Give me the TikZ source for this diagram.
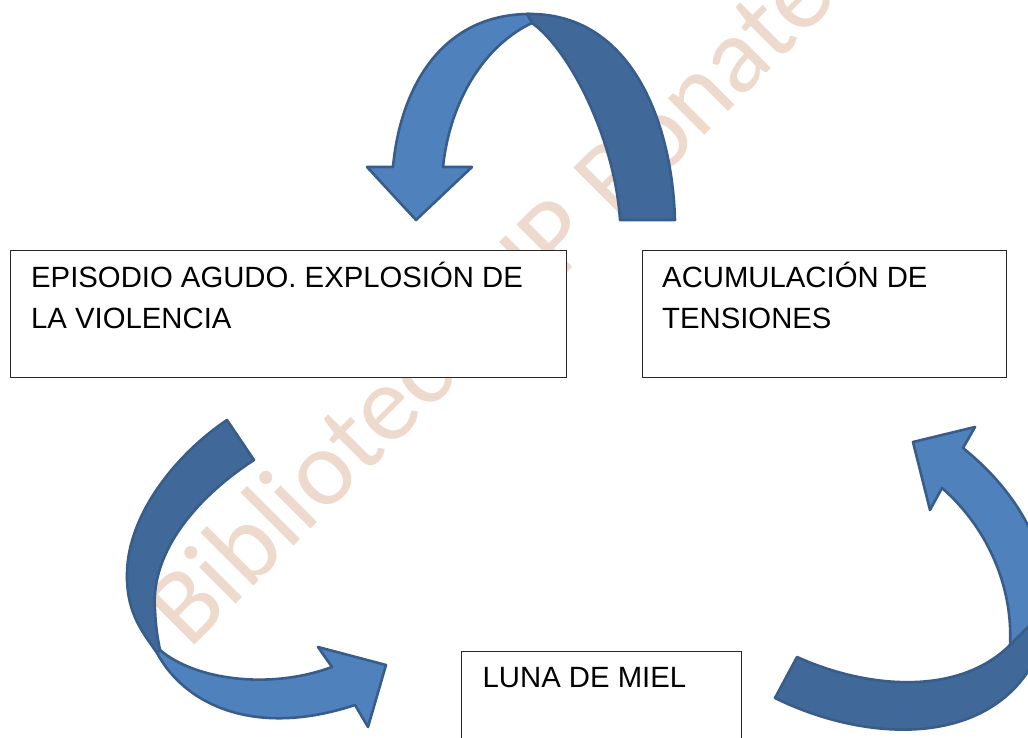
\documentclass[tikz,border=0pt]{standalone}
\usepackage{fontspec}
\setmainfont{Liberation Sans}
\newfontfamily\wmfont{Carlito}
\definecolor{wmcol}{RGB}{238,218,204}
\definecolor{arlight}{RGB}{79,129,189}
\definecolor{ardark}{RGB}{64,104,152}
\definecolor{arline}{RGB}{56,93,138}
\definecolor{boxline}{RGB}{40,40,40}
\tikzset{
  wm/.style={text=wmcol, font=\wmfont\fontsize{108}{108}\selectfont, inner sep=0pt},
  stagebox/.style={draw=boxline, line width=1.3pt, fill=white, inner sep=0pt, anchor=north west},
  lbl/.style={font=\fontsize{29.3}{40.5}\selectfont, inner sep=0pt, anchor=base west},
  lightpart/.style={fill=arlight, draw=arline, line width=2.6pt, line join=round},
  darkpart/.style={fill=ardark, draw=arline, line width=2.6pt, line join=round}
}
\begin{document}
\begin{tikzpicture}[x=1pt, y=-1pt]
\useasboundingbox (0,0) rectangle (1028,738);
\clip (0,0) rectangle (1028,738);
\fill[white] (0,0) rectangle (1028,738);
% watermark
\node[wm, rotate=45, anchor=base west] (wmark) at (189,651) {Biblioteca UP Bonate};
% boxes
\node[stagebox, minimum width=556pt, minimum height=127.5pt] (b1) at (10,249.5) {};
\node[stagebox, minimum width=364pt, minimum height=127.5pt] (b2) at (641.5,249.5) {};
\node[stagebox, minimum width=280pt, minimum height=120pt] (b3) at (461,651) {};
\node[lbl] (t1a) at (31,287.7) {EPISODIO AGUDO. EXPLOSIÓN DE};
\node[lbl] (t1b) at (31,328.2) {LA VIOLENCIA};
\node[lbl] (t2a) at (662,287.5) {ACUMULACIÓN DE};
\node[lbl] (t2b) at (662,328) {TENSIONES};
\node[lbl] (t3) at (482.5,687) {LUNA DE MIEL};
% top arrow
\draw[lightpart] (416,220) -- (367,167) -- (393,167)
  .. controls (400,90) and (440,14) .. (530,14) -- (532,23)
  .. controls (485,45) and (450,100) .. (443,167) -- (472,167) -- cycle;
\draw[darkpart] (527,14) .. controls (630,12) and (672,120) .. (675,220)
  -- (620,220) .. controls (615,140) and (570,50) .. (532,23) -- cycle;
% bottom-left arrow
\draw[darkpart] (227,420) -- (254,460) .. controls (200,495) and (150,550) .. (155,610)
  .. controls (156,630) and (158,640) .. (160,650) -- (157,653)
  .. controls (145,635) and (126,615) .. (127,573)
  .. controls (128,515) and (175,455) .. (227,420) -- cycle;
\draw[lightpart] (160,650) .. controls (195,680) and (270,690) .. (332,667)
  -- (318,647) -- (386,665) -- (368,727) -- (355,705)
  .. controls (255,738) and (185,705) .. (157,653) -- cycle;
% bottom-right arrow
\draw[lightpart] (942,488) -- (930,510) -- (913,442) -- (975,427) -- (963,448)
  .. controls (1015,490) and (1048,545) .. (1045,600) -- (1040,630) -- (1010,645)
  .. controls (1013,590) and (990,530) .. (942,488) -- cycle;
\draw[darkpart] (797,657) -- (775,698) .. controls (860,740) and (975,748) .. (1027,673)
  .. controls (1035,660) and (1040,640) .. (1040,615) -- (1010,645)
  .. controls (960,695) and (870,690) .. (797,657) -- cycle;
\end{tikzpicture}
\end{document}
